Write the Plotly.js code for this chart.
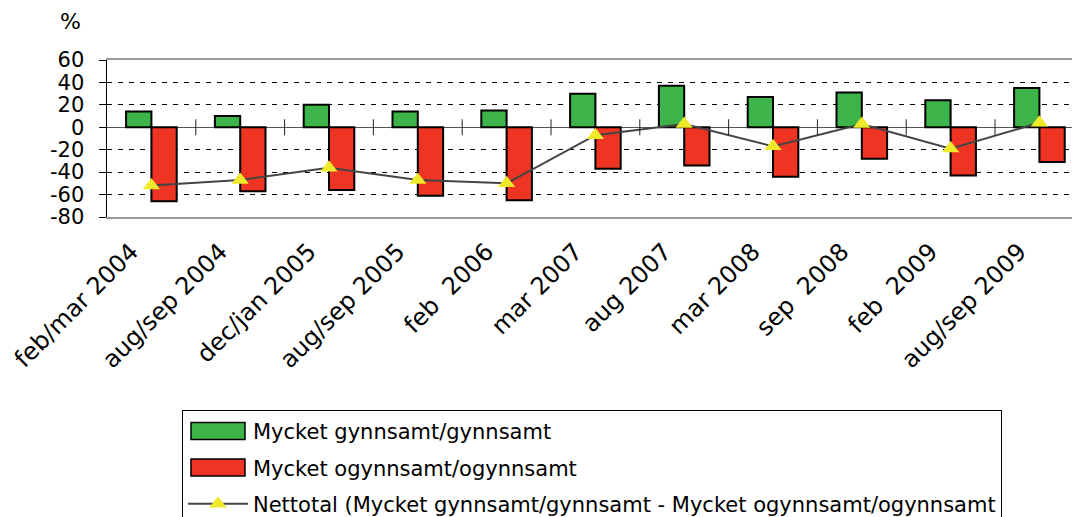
<!DOCTYPE html>
<html>
<head>
<meta charset="utf-8">
<script src="https://cdn.plot.ly/plotly-3.0.1.min.js"></script>
<style>
html,body{margin:0;padding:0;background:#fff;}
#chart{width:1072px;height:517px;}
</style>
</head>
<body>
<div id="chart"></div>
<script>
const categories = ["feb/mar 2004","aug/sep 2004","dec/jan 2005","aug/sep 2005","feb\u00a0 2006","mar 2007","aug 2007","mar 2008","sep\u00a0 2008","feb\u00a0 2009","aug/sep 2009"];
const favourable = [14, 10, 20, 14, 15, 30, 37, 27, 31, 24, 35];
const unfavourable = [-66, -57, -56, -61, -65, -37, -34, -44, -28, -43, -31];
const nettotal = [-52, -47, -36, -47, -50, -7, 3, -17, 3, -19, 4];
const yTicks = [-80, -60, -40, -20, 0, 20, 40, 60];
const seriesNames = ["Mycket gynnsamt/gynnsamt","Mycket ogynnsamt/ogynnsamt","Nettotal (Mycket gynnsamt/gynnsamt - Mycket ogynnsamt/ogynnsamt"];

const FONT = "DejaVu Sans, Verdana, sans-serif";

const traces = [
  {type:"bar", x:categories, y:favourable, name:seriesNames[0], legendgroup:"a",
   marker:{color:"#3cb44a", line:{color:"#000", width:2}}},
  {type:"bar", x:categories, y:unfavourable, name:seriesNames[1], legendgroup:"b",
   marker:{color:"#ee3524", line:{color:"#000", width:2}}},
  {type:"scatter", mode:"lines+markers", x:categories, y:nettotal, name:seriesNames[2], legendgroup:"c",
   line:{color:"#444", width:2},
   marker:{symbol:"triangle-up", size:15, color:"#eeea2a", line:{width:0}}}
];

const shapes = categories.slice(0, -1).map((c, i) => ({
  type:"line", xref:"x", yref:"y", ysizemode:"pixel", yanchor:0,
  x0:i+0.5, x1:i+0.5, y0:-8, y1:8, line:{color:"#222", width:1}
}));

const layout = {
  width:1072, height:517,
  margin:{l:107, r:0, t:60, b:300, autoexpand:false},
  paper_bgcolor:"#fff", plot_bgcolor:"#fff",
  font:{family:FONT, size:21, color:"#000"},
  barmode:"group", bargap:0.43, bargroupgap:0,
  showlegend:true,
  legend:{x:0.0777, xanchor:"left", y:-1.229, yanchor:"top",
    bordercolor:"#000", borderwidth:1, font:{size:21},
    traceorder:"grouped", tracegroupgap:6, itemwidth:60},
  xaxis:{type:"category", range:[-0.5, 10.367], fixedrange:true, automargin:false,
    showline:true, mirror:true, linecolor:"#999", linewidth:2,
    showgrid:false, zeroline:false, ticks:"", tickangle:-45,
    ticklabelstandoff:9, ticklabelshift:-20, tickfont:{size:24}},
  yaxis:{range:[-80, 60], tickmode:"array", tickvals:yTicks, ticktext:yTicks.map(String), automargin:false,
    showline:true, linecolor:"#000", linewidth:1.5,
    ticks:"outside", ticklen:7, tickcolor:"#000", tickwidth:1,
    showgrid:true, gridcolor:"#000", gridwidth:1, griddash:"5px,6px",
    zeroline:true, zerolinecolor:"#555", zerolinewidth:1.5,
    ticklabelstandoff:10, tickfont:{size:21}},
  shapes:shapes,
  annotations:[{text:"%", xref:"paper", yref:"paper", x:-0.038, y:1.2425,
    xanchor:"center", yanchor:"middle", showarrow:false, font:{size:22}}]
};

Plotly.newPlot("chart", traces, layout, {staticPlot:true, displayModeBar:false}).then(() => {
  // widen the bar legend swatches to the long rectangles of the reference
  const items = document.querySelectorAll("#chart .legend .traces");
  items.forEach((g, i) => {
    if (i < 2) {
      const p = g.querySelector(".legendpoints path");
      if (p) {
        p.setAttribute("d", "M27,8.5H-27V-8.5H27Z");
        p.style.strokeWidth = "1.5px";
        p.style.stroke = "#000";
      }
    }
  });
});
</script>
</body>
</html>
